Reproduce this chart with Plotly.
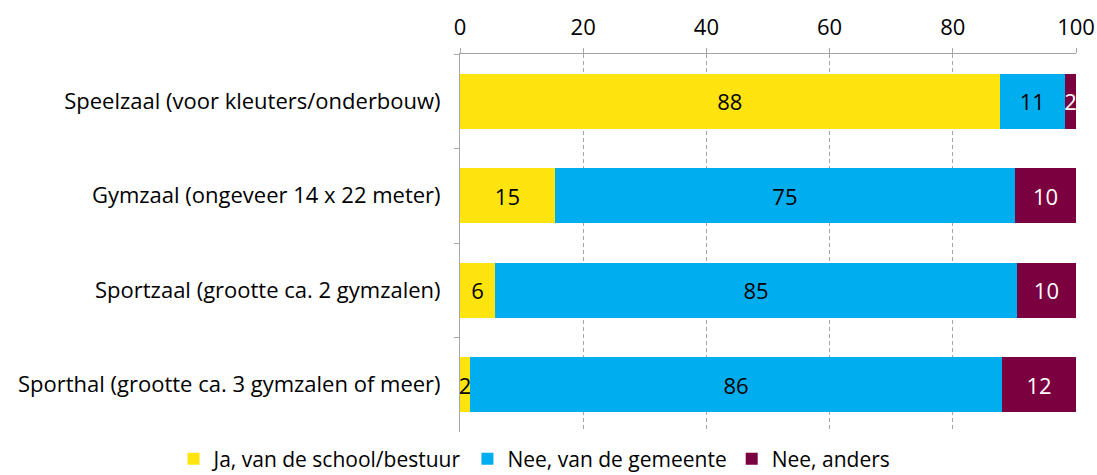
import plotly.graph_objects as go

categories = [
    "Speelzaal (voor kleuters/onderbouw)",
    "Gymzaal (ongeveer 14 x 22 meter)",
    "Sportzaal (grootte ca. 2 gymzalen)",
    "Sporthal (grootte ca. 3 gymzalen of meer)",
]
series_names = ["Ja, van de school/bestuur", "Nee, van de gemeente", "Nee, anders"]
ja_school = [87.6, 15.4, 5.7, 1.6]
nee_gemeente = [10.6, 74.7, 84.7, 86.4]
nee_anders = [1.8, 9.9, 9.6, 12.0]
x_ticks = [0, 20, 40, 60, 80, 100]

colors = ["#FFE40F", "#00AEEF", "#7B003F"]
text_colors = ["black", "black", "white"]
FONT = "Open Sans"
FS = 22

fig = go.Figure()
for name, vals, c, tc in zip(series_names, [ja_school, nee_gemeente, nee_anders], colors, text_colors):
    fig.add_trace(go.Bar(
        y=categories, x=vals, name=name, orientation="h",
        marker=dict(color=c, line=dict(width=0)),
        texttemplate="%{x:.0f}", textposition="inside",
        insidetextanchor="middle",
        textfont=dict(color=tc, size=FS, family=FONT),
    ))

fig.update_layout(
    barmode="stack",
    bargap=0.42,
    width=1097, height=475,
    margin=dict(l=460, r=21, t=54, b=43, autoexpand=False),
    paper_bgcolor="white", plot_bgcolor="white",
    font=dict(family=FONT, size=FS, color="black"),
    uniformtext=dict(minsize=FS, mode="show"),
    legend=dict(orientation="h", x=-0.465, xanchor="left",
                y=-0.072, yanchor="middle", traceorder="normal",
                itemwidth=30,
                font=dict(size=21, family=FONT)),
    showlegend=True,
)
fig.update_xaxes(
    side="top", range=[0, 100], tickvals=x_ticks,
    showgrid=True, gridcolor="#A6A6A6", griddash="4px,3px", gridwidth=1,
    showline=True, linecolor="#A6A6A6", linewidth=1,
    ticks="outside", ticklen=5, tickcolor="#A6A6A6",
    zeroline=False, ticklabelstandoff=4,
    tickfont=dict(size=FS, family=FONT),
)
fig.update_yaxes(
    categoryorder="array", categoryarray=categories, autorange="reversed",
    showline=True, linecolor="#A6A6A6", linewidth=1,
    ticks="outside", ticklen=5, tickcolor="#A6A6A6", tickson="boundaries",
    showgrid=False, ticklabelstandoff=14,
    tickfont=dict(size=FS, family=FONT),
)

fig.write_html(
    "out.html",
    config={"displayModeBar": False},
    post_script="document.body.style.margin='0';document.body.style.overflow='hidden';",
)
